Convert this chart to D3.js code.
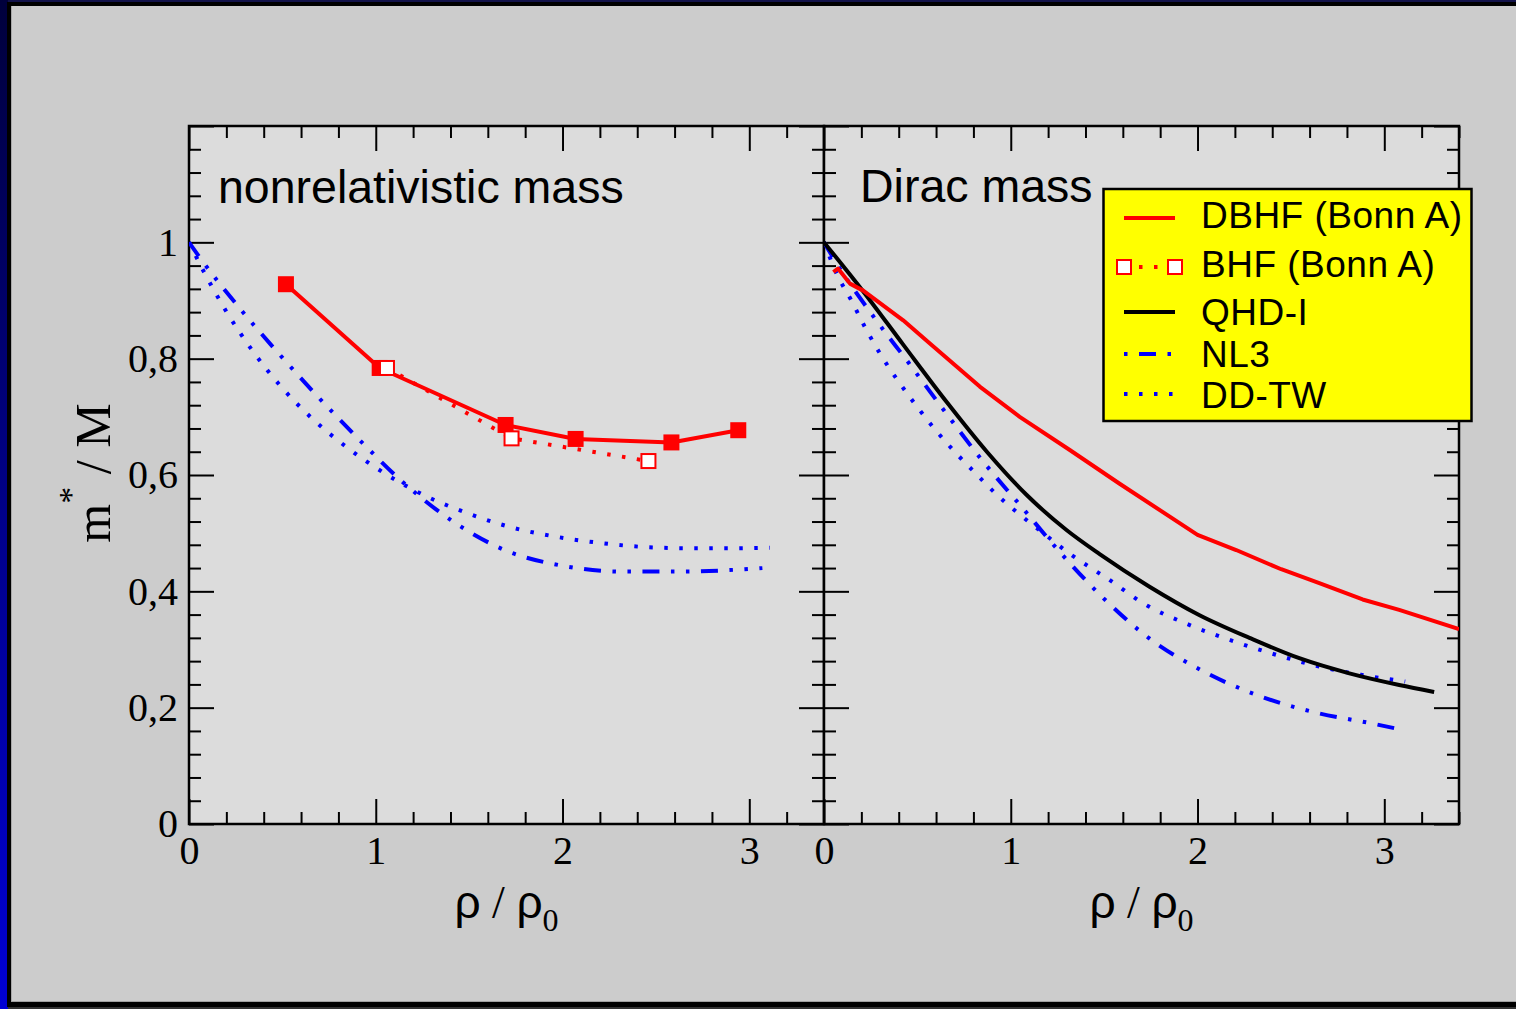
<!DOCTYPE html>
<html><head><meta charset="utf-8">
<script src="https://cdn.jsdelivr.net/npm/d3@7"></script>
<style>body{margin:0;background:#cccccc;} svg{display:block}</style>
</head><body><svg id="c" width="1516" height="1009"></svg>
<script>
// ---------------- data ----------------
const panelTitles = ["nonrelativistic mass", "Dirac mass"];
const xMajorTicks = [0, 1, 2, 3];
const xTickLabels = ["0", "1", "2", "3"];
const yMajorTicks = [0, 0.2, 0.4, 0.6, 0.8, 1.0];
const yTickLabels = ["0", "0,2", "0,4", "0,6", "0,8", "1"];
const legendLabels = ["DBHF (Bonn A)", "BHF (Bonn A)", "QHD-I", "NL3", "DD-TW"];

// left panel: nonrelativistic mass
const nrDBHF_x = [0.519, 1.021, 1.695, 2.070, 2.583, 2.941];
const nrDBHF_y = [0.928, 0.784, 0.686, 0.662, 0.656, 0.677];
const nrBHF_x = [1.060, 1.727, 2.460];
const nrBHF_y = [0.784, 0.663, 0.624];
const nrNL3_x = [0.0, 0.053, 0.255, 0.469, 0.683, 0.914, 1.144, 1.405, 1.690, 2.000, 2.321, 2.642, 2.973, 3.070];
const nrNL3_y = [1.0, 0.976, 0.893, 0.813, 0.737, 0.660, 0.588, 0.522, 0.471, 0.444, 0.434, 0.434, 0.438, 0.440];
const nrDDTW_x = [0.0, 0.082, 0.202, 0.339, 0.490, 0.663, 0.852, 1.052, 1.267, 1.494, 1.726, 1.963, 2.207, 2.448, 2.694, 2.937, 3.110];
const nrDDTW_y = [1.0, 0.948, 0.880, 0.814, 0.753, 0.696, 0.646, 0.602, 0.564, 0.534, 0.510, 0.494, 0.483, 0.476, 0.474, 0.474, 0.475];

// right panel: Dirac mass
const dDBHF_x = [0.050, 0.075, 0.139, 0.210, 0.424, 0.567, 0.834, 1.048, 1.316, 1.583, 2.000, 2.207, 2.448, 2.652, 2.884, 3.080, 3.400];
const dDBHF_y = [0.949, 0.955, 0.929, 0.917, 0.866, 0.826, 0.752, 0.700, 0.643, 0.585, 0.497, 0.471, 0.438, 0.414, 0.386, 0.368, 0.335];
const dQHD_x = [0.0, 0.209, 0.422, 0.658, 0.872, 1.084, 1.300, 1.476, 1.743, 2.011, 2.278, 2.545, 2.813, 3.080, 3.267];
const dQHD_y = [1.0, 0.916, 0.825, 0.725, 0.640, 0.566, 0.505, 0.464, 0.408, 0.359, 0.320, 0.285, 0.259, 0.239, 0.227];
const dNL3_x = [0.0, 0.075, 0.259, 0.455, 0.652, 0.850, 1.061, 1.267, 1.497, 1.738, 2.016, 2.316, 2.626, 2.947, 3.064];
const dNL3_y = [1.0, 0.960, 0.875, 0.792, 0.707, 0.624, 0.544, 0.466, 0.388, 0.320, 0.265, 0.222, 0.192, 0.172, 0.164];
const dDDTW_x = [0.0, 0.068, 0.148, 0.223, 0.305, 0.394, 0.490, 0.590, 0.697, 0.811, 0.929, 1.052, 1.186, 1.310, 1.440, 1.508, 1.722, 1.943, 2.167, 2.399, 2.635, 2.875, 3.112];
const dDDTW_y = [1.0, 0.946, 0.899, 0.852, 0.806, 0.763, 0.721, 0.680, 0.641, 0.603, 0.565, 0.531, 0.497, 0.466, 0.438, 0.424, 0.377, 0.344, 0.317, 0.293, 0.272, 0.2565, 0.245];

// ---------------- drawing ----------------
const svg = d3.select("#c");
const W = 1516, H = 1009;
const zip = (xs, ys) => xs.map((x, i) => [x, ys[i]]);

// slide background & frame
const defs = svg.append("defs");
const g1 = defs.append("linearGradient").attr("id", "leftGrad").attr("x1", 0).attr("y1", 0).attr("x2", 0).attr("y2", 1);
g1.append("stop").attr("offset", "0%").attr("stop-color", "#00003c");
g1.append("stop").attr("offset", "100%").attr("stop-color", "#0000d4");
svg.append("rect").attr("x", 0).attr("y", 0).attr("width", W).attr("height", H).attr("fill", "#333333");
svg.append("rect").attr("x", 0).attr("y", 0).attr("width", W).attr("height", 3).attr("fill", "#12124a");
svg.append("rect").attr("x", 0).attr("y", 0).attr("width", 8).attr("height", H).attr("fill", "url(#leftGrad)");
svg.append("rect").attr("x", 7).attr("y", 2).attr("width", W - 7).attr("height", 1005).attr("fill", "#000");
svg.append("rect").attr("x", 11).attr("y", 6).attr("width", W - 11).attr("height", 996).attr("fill", "#cccccc");
svg.append("line").attr("x1", 11.5).attr("x2", 11.5).attr("y1", 6).attr("y2", 1002).attr("stroke", "#a8a8a8").attr("stroke-width", 1);
svg.append("line").attr("x1", 11).attr("x2", W).attr("y1", 1001.5).attr("y2", 1001.5).attr("stroke", "#a0a0a0").attr("stroke-width", 1);

const y = d3.scaleLinear().domain([0, 1.2]).range([824, 126]);
const xL = d3.scaleLinear().domain([0, 3.4]).range([189, 824]);
const xR = d3.scaleLinear().domain([0, 3.4]).range([824, 1459]);

const xMinor = d3.range(0, 3.401, 0.2).filter(v => Math.abs(v - Math.round(v)) > 1e-6);
const yMinor = d3.range(0, 1.2001, 0.04).filter(v => Math.abs(v / 0.2 - Math.round(v / 0.2)) > 1e-6);
const serif = "'Liberation Serif', 'Times New Roman', serif";
const sans = "'Liberation Sans', Arial, Helvetica, sans-serif";

function styleAxis(g) {
  g.select(".domain").remove();
  g.selectAll(".tick line").attr("stroke", "#000").attr("stroke-width", 2);
  g.attr("font-family", serif).attr("font-size", 40);
  g.selectAll(".tick text").attr("fill", "#000");
}

function drawPanel(x, idx) {
  const [x0, x1] = x.range();
  const [yb, yt] = [y(0), y(1.2)];
  svg.append("rect").attr("x", x0).attr("y", yt).attr("width", x1 - x0).attr("height", yb - yt)
    .attr("fill", "#dcdcdc");
  const clipId = "clip" + idx;
  defs.append("clipPath").attr("id", clipId).append("rect")
    .attr("x", x0).attr("y", yt).attr("width", x1 - x0).attr("height", yb - yt);

  // bottom axis (ticks inward)
  svg.append("g").attr("transform", `translate(0,${yb})`)
    .call(d3.axisBottom(x).tickValues(xMinor).tickSize(-12).tickSizeOuter(0).tickFormat(""))
    .call(styleAxis);
  svg.append("g").attr("transform", `translate(0,${yb})`)
    .call(d3.axisBottom(x).tickValues(xMajorTicks).tickSize(-25).tickSizeOuter(0).tickPadding(12)
      .tickFormat((d, i) => xTickLabels[i]))
    .call(styleAxis);
  // top axis
  svg.append("g").attr("transform", `translate(0,${yt})`)
    .call(d3.axisTop(x).tickValues(xMinor).tickSize(-12).tickSizeOuter(0).tickFormat(""))
    .call(styleAxis);
  svg.append("g").attr("transform", `translate(0,${yt})`)
    .call(d3.axisTop(x).tickValues(xMajorTicks).tickSize(-25).tickSizeOuter(0).tickFormat(""))
    .call(styleAxis);
  // left axis
  svg.append("g").attr("transform", `translate(${x0},0)`)
    .call(d3.axisLeft(y).tickValues(yMinor).tickSize(-12).tickSizeOuter(0).tickFormat(""))
    .call(styleAxis);
  svg.append("g").attr("transform", `translate(${x0},0)`)
    .call(d3.axisLeft(y).tickValues(yMajorTicks.concat([1.2])).tickSize(-25).tickSizeOuter(0).tickPadding(11)
      .tickFormat((d, i) => idx === 0 && i < yTickLabels.length ? yTickLabels[i] : ""))
    .call(styleAxis);
  // right axis
  svg.append("g").attr("transform", `translate(${x1},0)`)
    .call(d3.axisRight(y).tickValues(yMinor).tickSize(-12).tickSizeOuter(0).tickFormat(""))
    .call(styleAxis);
  svg.append("g").attr("transform", `translate(${x1},0)`)
    .call(d3.axisRight(y).tickValues(yMajorTicks.concat([1.2])).tickSize(-25).tickSizeOuter(0).tickFormat(""))
    .call(styleAxis);

  // frame
  svg.append("rect").attr("x", x0).attr("y", yt).attr("width", x1 - x0).attr("height", yb - yt)
    .attr("fill", "none").attr("stroke", "#000").attr("stroke-width", 2.5);

  // title
  svg.append("text").attr("x", idx === 0 ? 218 : 860).attr("y", idx === 0 ? 203 : 202)
    .attr("font-family", sans).attr("font-size", 46.5).attr("fill", "#000").text(panelTitles[idx]);

  // x axis title
  const t = svg.append("text").attr("x", (x0 + x1) / 2).attr("y", 918)
    .attr("text-anchor", "middle").attr("font-family", serif).attr("font-size", 46).attr("fill", "#000");
  t.append("tspan").attr("font-family", sans).text("ρ");
  t.append("tspan").text(" / ");
  t.append("tspan").attr("font-family", sans).text("ρ");
  t.append("tspan").attr("font-size", 32).attr("dy", 13).text("0");
  return clipId;
}

const clipL = drawPanel(xL, 0);
const clipR = drawPanel(xR, 1);

// y axis title
const ytl = svg.append("text").attr("transform", "translate(110,473) rotate(-90)")
  .attr("text-anchor", "middle").attr("font-family", serif).attr("font-size", 50).attr("fill", "#000");
ytl.append("tspan").text("m");
ytl.append("tspan").attr("font-size", 34).attr("dy", -28).text("*");
ytl.append("tspan").attr("dy", 28).text(" / M");

// line styles
const RED = "#ff0000", BLUE = "#0000ff";
const dotDash = "3.5 11.5";
const dashDotDot = "17 11.5 3.5 11.5 3.5 11.5";

function drawLine(x, clip, xs, ys, color, dash, curve) {
  const line = d3.line().x(d => x(d[0])).y(d => y(d[1])).curve(curve || d3.curveLinear);
  svg.append("path").datum(zip(xs, ys)).attr("clip-path", `url(#${clip})`)
    .attr("d", line).attr("fill", "none").attr("stroke", color).attr("stroke-width", 4)
    .attr("stroke-dasharray", dash || null).attr("stroke-linejoin", "round");
}

// left panel
drawLine(xL, clipL, nrNL3_x, nrNL3_y, BLUE, dashDotDot, d3.curveMonotoneX);
drawLine(xL, clipL, nrDDTW_x, nrDDTW_y, BLUE, dotDash, d3.curveMonotoneX);
drawLine(xL, clipL, nrBHF_x, nrBHF_y, RED, dotDash);
drawLine(xL, clipL, nrDBHF_x, nrDBHF_y, RED, null);
svg.append("g").selectAll("rect").data(zip(nrDBHF_x, nrDBHF_y)).join("rect")
  .attr("x", d => xL(d[0]) - 8).attr("y", d => y(d[1]) - 8).attr("width", 16).attr("height", 16)
  .attr("fill", RED);
svg.append("g").selectAll("rect").data(zip(nrBHF_x, nrBHF_y)).join("rect")
  .attr("x", d => xL(d[0]) - 7).attr("y", d => y(d[1]) - 7).attr("width", 14).attr("height", 14)
  .attr("fill", "#fff").attr("stroke", RED).attr("stroke-width", 2);

// right panel
drawLine(xR, clipR, dNL3_x, dNL3_y, BLUE, dashDotDot, d3.curveMonotoneX);
drawLine(xR, clipR, dDDTW_x, dDDTW_y, BLUE, dotDash, d3.curveMonotoneX);
drawLine(xR, clipR, dQHD_x, dQHD_y, "#000", null, d3.curveMonotoneX);
drawLine(xR, clipR, dDBHF_x, dDBHF_y, RED, null);

// legend
const lg = svg.append("g");
lg.append("rect").attr("x", 1103.5).attr("y", 189).attr("width", 368).attr("height", 232)
  .attr("fill", "#ffff00").attr("stroke", "#000").attr("stroke-width", 2.5);
const legY = [218, 267, 312, 354, 394];
const legBase = [228, 277, 324.5, 366.5, 408];
const legStyle = [
  {c: RED, dash: null}, {c: RED, dash: dotDash, mk: true}, {c: "#000", dash: null},
  {c: BLUE, dash: dashDotDot, off: 43.5}, {c: BLUE, dash: dotDash, off: 0}
];
legendLabels.forEach((lab, i) => {
  const s = legStyle[i];
  lg.append("line").attr("x1", 1124).attr("x2", 1175).attr("y1", legY[i]).attr("y2", legY[i])
    .attr("stroke", s.c).attr("stroke-width", 4).attr("stroke-dasharray", s.dash)
    .attr("stroke-dashoffset", s.off || 0);
  if (s.mk) {
    [1124, 1175].forEach(cx => lg.append("rect").attr("x", cx - 7).attr("y", legY[i] - 7)
      .attr("width", 14).attr("height", 14).attr("fill", "#fff").attr("stroke", RED).attr("stroke-width", 2));
  }
  lg.append("text").attr("x", 1201).attr("y", legBase[i]).attr("font-family", sans)
    .attr("font-size", 37).attr("letter-spacing", 0.5).attr("fill", "#000").text(lab);
});
</script>
</body></html>
